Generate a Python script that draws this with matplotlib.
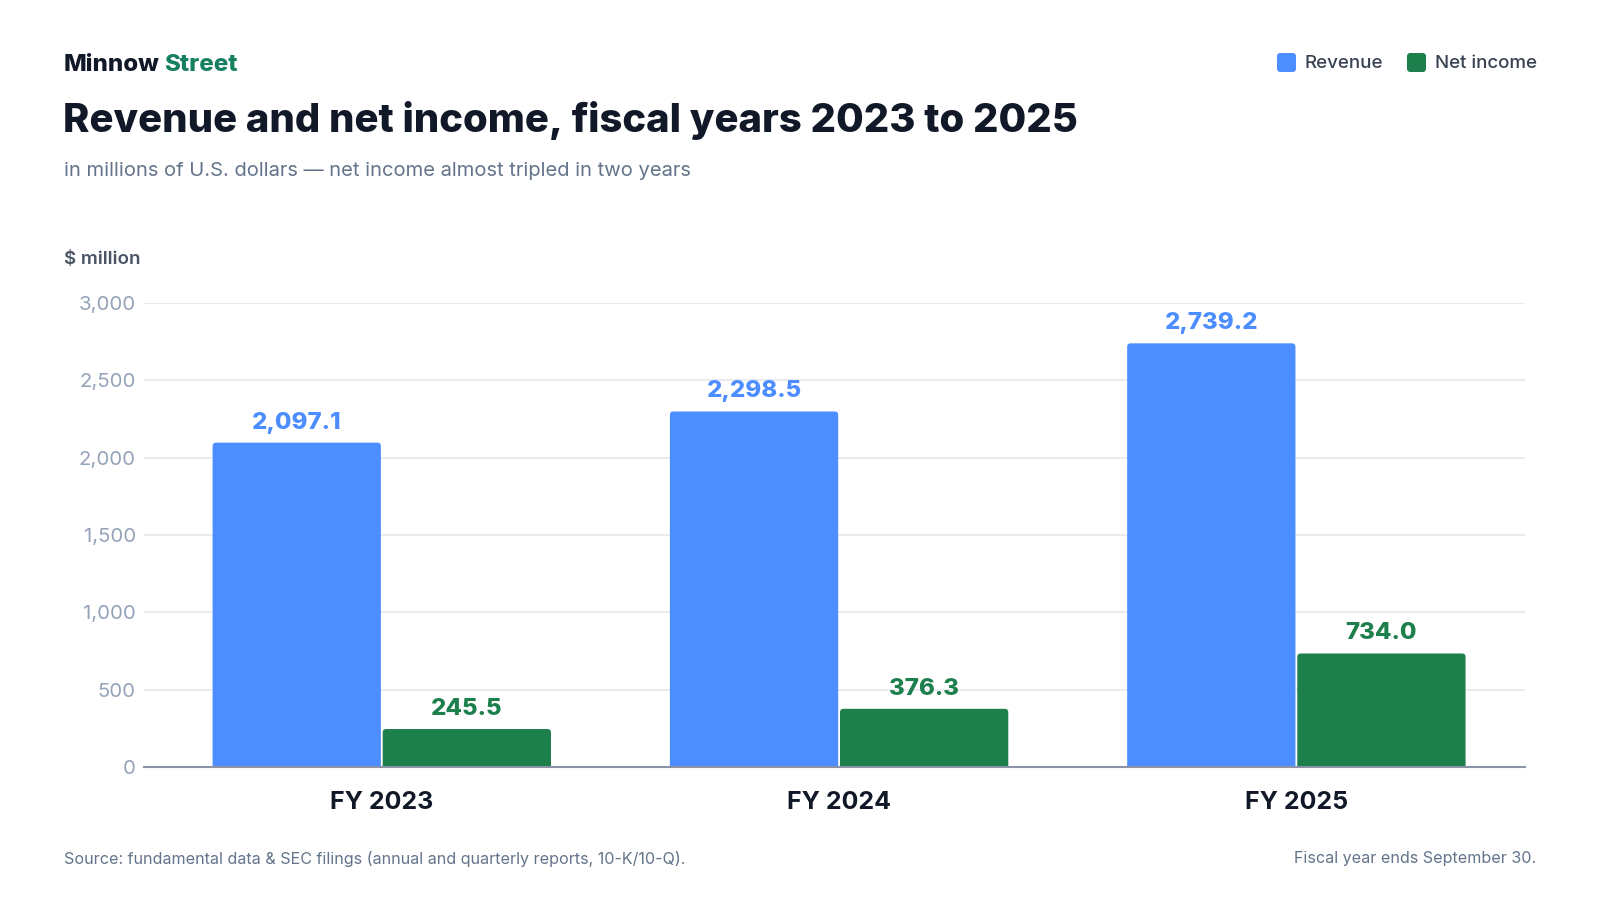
import matplotlib
matplotlib.use("Agg")
import matplotlib.pyplot as plt
from matplotlib.patches import FancyBboxPatch
import numpy as np

categories = ["FY 2023", "FY 2024", "FY 2025"]
revenue = [2097.1, 2298.5, 2739.2]
net_income = [245.5, 376.3, 734.0]
series_names = ["Revenue", "Net income"]
yticks = [0, 500, 1000, 1500, 2000, 2500, 3000]

BLUE = "#4C8DFF"
GREEN = "#1C7F4C"
BRAND_GREEN = "#168060"
DARK = "#111827"
SUB = "#64748B"
TICK = "#94A3B8"
GRID = "#E6E8EC"

plt.rcParams["font.family"] = ["Inter", "DejaVu Sans"]

fig = plt.figure(figsize=(16, 9), dpi=100)
fig.patch.set_facecolor("white")
W, H = 1600, 900

def fx(px):
    return px / W

def fy(py):
    return 1 - py / H

ax_l, ax_r, ax_b, ax_t = 144, 1525, 767, 303
ax = fig.add_axes([fx(ax_l), fy(ax_b), fx(ax_r) - fx(ax_l), fy(ax_t) - fy(ax_b)])
x = np.arange(len(categories))
bw = 0.368
gap = 0.004
xlim = (-0.52, 2.5)
ylim = (0, 3000)
ax.set_xlim(*xlim)
ax.set_ylim(*ylim)

b1 = ax.bar(x - bw / 2 - gap / 2, revenue, bw, color=BLUE, zorder=3)
b2 = ax.bar(x + bw / 2 + gap / 2, net_income, bw, color=GREEN, zorder=3)

# rounded tops: replace rectangles with rounded boxes
x_per_px = (xlim[1] - xlim[0]) / (ax_r - ax_l)
y_per_px = (ylim[1] - ylim[0]) / (ax_b - ax_t)
aspect = y_per_px / x_per_px
r_px = 3.5
for bars in (b1, b2):
    for r in bars:
        r.set_visible(False)
        ext = r_px * y_per_px
        p = FancyBboxPatch((r.get_x(), -ext), r.get_width(), r.get_height() + ext,
                           boxstyle=f"round,pad=0,rounding_size={r_px * x_per_px}",
                           mutation_aspect=aspect, facecolor=r.get_facecolor(),
                           edgecolor="none", zorder=3, clip_on=True)
        ax.add_patch(p)

for bars, vals, col in [(b1, revenue, BLUE), (b2, net_income, GREEN)]:
    for r, v in zip(bars, vals):
        ax.annotate(f"{v:,.1f}", (r.get_x() + r.get_width() / 2, v),
                    xytext=(0, 6.5), textcoords="offset points",
                    ha="center", va="bottom", fontsize=17.3, fontweight="heavy",
                    color=col, annotation_clip=False)

ax.set_yticks(yticks)
ax.set_yticklabels([f"{t:,}" for t in yticks])
ax.set_xticks(x)
ax.set_xticklabels(categories)
ax.tick_params(axis="y", length=0, pad=6, labelsize=14.7, labelcolor=TICK)
ax.tick_params(axis="x", length=0, pad=17, labelsize=18)
for lab in ax.get_xticklabels():
    lab.set_fontweight("bold")
    lab.set_color(DARK)
ax.grid(axis="y", color=GRID, linewidth=1.2, zorder=0)
for s in ["top", "right", "left"]:
    ax.spines[s].set_visible(False)
ax.spines["bottom"].set_color("#8A94A6")
ax.spines["bottom"].set_linewidth(1.5)
ax.spines["bottom"].set_zorder(4)
ax.set_facecolor("white")

# Header
t1 = fig.text(fx(64), fy(65), "Minnow", fontsize=17.3, fontweight="heavy", color=DARK,
              ha="left", va="center")
fig.canvas.draw()
bb = t1.get_window_extent()
fig.text((bb.x1 + 4.5) / W, fy(65), "Street", fontsize=17.3, fontweight="heavy",
         color=BRAND_GREEN, ha="left", va="center")
fig.text(fx(63), fy(121), "Revenue and net income, fiscal years 2023 to 2025",
         fontsize=28.8, fontweight="heavy", color=DARK, ha="left", va="center")
fig.text(fx(64), fy(171), "in millions of U.S. dollars \u2014 net income almost tripled in two years",
         fontsize=14.5, color=SUB, ha="left", va="center")
fig.text(fx(64), fy(259), "$ million", fontsize=13.5, fontweight="semibold", color="#4B5565",
         ha="left", va="center")

# Legend
for name, col, sx in [(series_names[0], BLUE, 1277), (series_names[1], GREEN, 1407)]:
    p = FancyBboxPatch((fx(sx), fy(72)), fx(19), fy(53) - fy(72),
                       boxstyle=f"round,pad=0,rounding_size={3.5 / W}",
                       mutation_aspect=W / H, transform=fig.transFigure,
                       facecolor=col, edgecolor="none")
    fig.patches.append(p)
    fig.text(fx(sx + 28), fy(63), name, fontsize=13.5, fontweight="medium", color="#374151",
             ha="left", va="center")

# Footer
fig.text(fx(64), fy(859), "Source: fundamental data & SEC filings (annual and quarterly reports, 10-K/10-Q).",
         fontsize=11.6, color=SUB, ha="left", va="center")
fig.text(fx(1536), fy(859), "Fiscal year ends September 30.", fontsize=11.6, color=SUB,
         ha="right", va="center")

fig.savefig("out.png", dpi=100, facecolor="white")
